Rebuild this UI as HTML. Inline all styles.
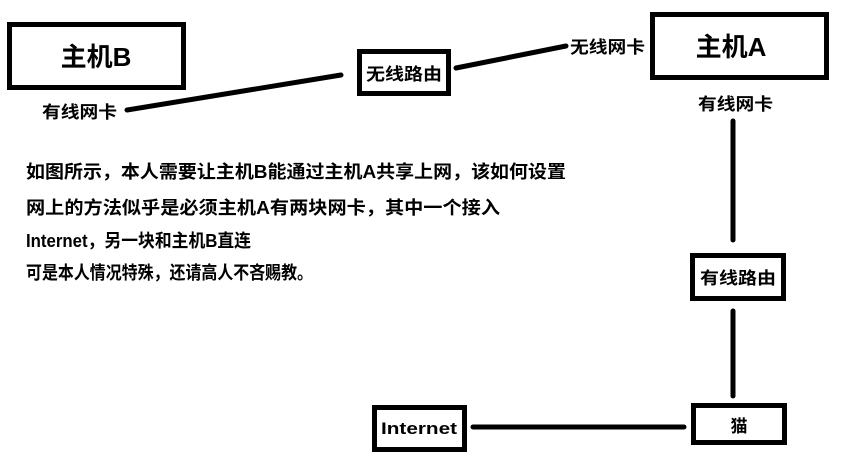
<!DOCTYPE html>
<html><head><meta charset="utf-8"><style>
html,body{margin:0;padding:0;background:#fff;}
svg{display:block;}
text{font-family:"Liberation Sans","Noto Sans CJK SC",sans-serif;font-weight:bold;fill:#000;}
</style></head><body>
<svg width="844" height="467" viewBox="0 0 844 467" xmlns="http://www.w3.org/2000/svg">
<g fill="none" stroke="#000" stroke-width="5">
<rect x="9.5" y="24.5" width="174" height="63"/>
<rect x="359.5" y="51.5" width="89" height="42"/>
<rect x="652.5" y="14.5" width="174" height="63"/>
<rect x="692.5" y="255.5" width="91" height="43"/>
<rect x="693.5" y="405.5" width="91" height="37"/>
<rect x="374.5" y="407.5" width="90" height="42"/>
</g>
<g stroke="#000" stroke-width="5" stroke-linecap="round">
<line x1="127" y1="110" x2="341" y2="75"/>
<line x1="456" y1="68" x2="566" y2="46"/>
<line x1="733" y1="121" x2="733" y2="240"/>
<line x1="733" y1="311" x2="733" y2="396"/>
<line x1="473" y1="427" x2="684" y2="427"/>
</g>
<text x="96" y="66" font-size="26" text-anchor="middle">主机B</text>
<text x="731" y="56" font-size="26" text-anchor="middle">主机A</text>
<text x="404" y="80" font-size="17" text-anchor="middle" textLength="76" lengthAdjust="spacingAndGlyphs">无线路由</text>
<text x="738" y="284" font-size="17" text-anchor="middle" textLength="76" lengthAdjust="spacingAndGlyphs">有线路由</text>
<text x="739" y="432" font-size="17" text-anchor="middle">猫</text>
<text x="419" y="434" font-size="17" text-anchor="middle" textLength="76" lengthAdjust="spacingAndGlyphs">Internet</text>
<text x="42" y="118" font-size="17" textLength="75" lengthAdjust="spacingAndGlyphs">有线网卡</text>
<text x="570" y="53" font-size="17" textLength="75" lengthAdjust="spacingAndGlyphs">无线网卡</text>
<text x="698" y="110" font-size="17" textLength="75" lengthAdjust="spacingAndGlyphs">有线网卡</text>
<g font-size="18">
<text x="26" y="178" textLength="540" lengthAdjust="spacingAndGlyphs">如图所示，本人需要让主机B能通过主机A共享上网，该如何设置</text>
<text x="26" y="214" textLength="474" lengthAdjust="spacingAndGlyphs">网上的方法似乎是必须主机A有两块网卡，其中一个接入</text>
<text x="26" y="247" textLength="225" lengthAdjust="spacingAndGlyphs">Internet，另一块和主机B直连</text>
<text x="26" y="279" textLength="287" lengthAdjust="spacingAndGlyphs">可是本人情况特殊，还请高人不吝赐教。</text>
</g>
</svg>
</body></html>
